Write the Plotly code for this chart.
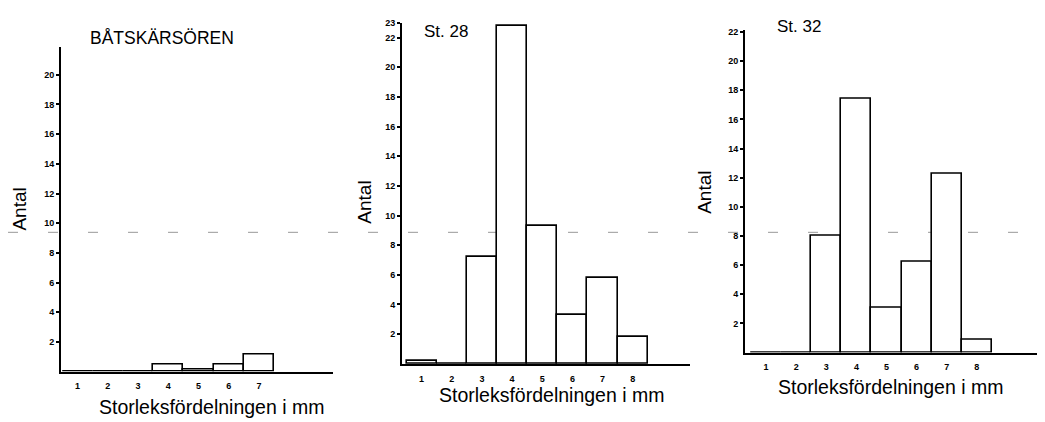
import plotly.graph_objects as go

# page has an 8px body margin: draw in reference pixel coords minus the offset
OFF = 8
W, H = 1045 - OFF, 422 - OFF

# Data
titles = ["BÅTSKÄRSÖREN", "St. 28", "St. 32"]
cats1 = [1, 2, 3, 4, 5, 6, 7]
vals1 = [0, 0, 0, 0.45, 0.15, 0.5, 1.15]
cats2 = [1, 2, 3, 4, 5, 6, 7, 8]
vals2 = [0.2, 0, 7.2, 22.8, 9.3, 3.3, 5.8, 1.8]
cats3 = [1, 2, 3, 4, 5, 6, 7, 8]
vals3 = [0, 0, 8.0, 17.4, 3.1, 6.2, 12.3, 0.9]
yticks1 = [2, 4, 6, 8, 10, 12, 14, 16, 18, 20]
yticks2 = [2, 4, 6, 8, 10, 12, 14, 16, 18, 20, 22, 23]
yticks3 = [2, 4, 6, 8, 10, 12, 14, 16, 18, 20, 22]
xlabel = "Storleksfördelningen i mm"
ylabel = "Antal"

def px(x):
    return (x - OFF) / W

def py(y):
    return 1 - (y - OFF) / H

FONT = "Liberation Sans"

fig = go.Figure()

panels = [
    dict(cats=cats1, vals=vals1, yt=yticks1, xd=[61, 333], yd=[371, 42], xr=[0.45, 9.45], yr=[0, 21.9]),
    dict(cats=cats2, vals=vals2, yt=yticks2, xd=[402, 690], yd=[363, 18], xr=[0.35, 9.9], yr=[0, 23.0]),
    dict(cats=cats3, vals=vals3, yt=yticks3, xd=[745, 1037], yd=[351.7, 25], xr=[0.30, 10.0], yr=[0, 22.15]),
]

layout = dict(
    width=W, height=H,
    margin=dict(l=0, r=0, t=0, b=0),
    paper_bgcolor="white", plot_bgcolor="white",
    showlegend=False,
    bargap=0,
)

for i, p in enumerate(panels):
    sfx = "" if i == 0 else str(i + 1)
    fig.add_trace(go.Bar(
        x=p["cats"], y=p["vals"], width=1.0,
        marker=dict(color="white", line=dict(color="black", width=1.6)),
        xaxis="x" + sfx, yaxis="y" + sfx, hoverinfo="skip",
    ))
    layout["xaxis" + sfx] = dict(
        domain=[px(p["xd"][0]), min(1.0, px(p["xd"][1]))], range=p["xr"],
        anchor="y" + sfx, showgrid=False, zeroline=False,
        showline=True, linecolor="black", linewidth=2,
        tickmode="array", tickvals=p["cats"], ticktext=[str(c) for c in p["cats"]],
        ticks="", ticklabelstandoff=5,
        tickfont=dict(family=FONT, size=9, color="black", weight="bold"),
    )
    layout["yaxis" + sfx] = dict(
        domain=[py(p["yd"][0]), py(p["yd"][1])], range=p["yr"],
        anchor="x" + sfx, showgrid=False, zeroline=False,
        showline=True, linecolor="black", linewidth=2,
        tickmode="array", tickvals=p["yt"], ticktext=[str(t) for t in p["yt"]],
        ticks="outside", ticklen=3, tickcolor="black", tickwidth=1.5,
        tickfont=dict(family=FONT, size=9, color="black", weight="bold"),
    )

fig.update_layout(**layout)

annos = []
# titles
title_pos = [(88, 33, 17.5), (422, 27, 17), (775, 22, 17)]
for t, (x, y, s) in zip(titles, title_pos):
    annos.append(dict(text=t, x=px(x), y=py(y), xref="paper", yref="paper",
                      xanchor="left", yanchor="middle", showarrow=False,
                      font=dict(family=FONT, size=s, color="black")))
# y labels
ylab_pos = [(20, 207), (365, 200), (705, 190)]
for x, y in ylab_pos:
    annos.append(dict(text=ylabel, x=px(x), y=py(y), xref="paper", yref="paper",
                      xanchor="center", yanchor="middle", textangle=-90, showarrow=False,
                      font=dict(family=FONT, size=19, color="black")))
# x labels
xlab_pos = [(97, 407), (437, 395), (776, 387)]
for x, y in xlab_pos:
    annos.append(dict(text=xlabel, x=px(x), y=py(y), xref="paper", yref="paper",
                      xanchor="left", yanchor="middle", showarrow=False,
                      font=dict(family=FONT, size=19.5, color="black")))
fig.update_layout(annotations=annos)

# faint dashed scan line
fig.add_shape(type="line", xref="paper", yref="paper", x0=0, x1=1, y0=py(230), y1=py(230),
              line=dict(color="#999999", width=1, dash="10px,30px"), layer="below")

fig.write_html("out.html")
